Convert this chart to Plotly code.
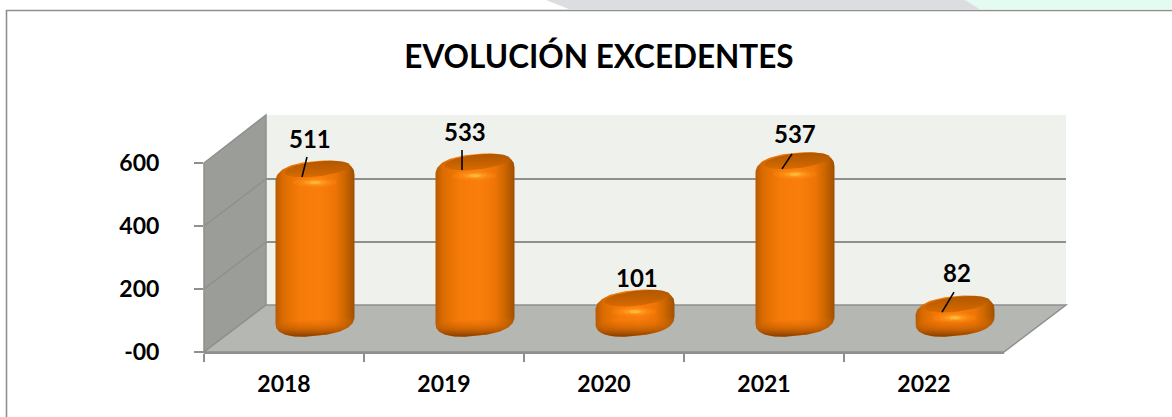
import numpy as np
import plotly.graph_objects as go

W, H = 1172, 417
years = ["2018", "2019", "2020", "2021", "2022"]
excedentes = [511, 533, 101, 537, 82]
tick_values = [0, 200, 400, 600]
tick_labels = ["-00", "200", "400", "600"]
title_text = "EVOLUCIÓN EXCEDENTES"

# styling: label / leader offsets in px relative to the bar-top centre
label_dx = [-5, -10, 2, 0, 2]
label_dy = [30, 30, 20, 26, 31]
leader_px = [((-8, 11), (-13, -9)), ((-13, 11), (-13, -9)), None, ((-3, 6), (-13, -9)), ((-1, 11), (-13, -9))]

FONT = "Lato, Carlito, Calibri, sans-serif"
PX_X = 1 / 160.0        # data units per px, x
PX_Y = 600 / 189.0      # data units per px, y


def fx(p):
    return p / W


def fy(p):
    return 1 - p / H


def poly(pts):
    return "M" + " L".join(f"{fx(x):.5f},{fy(y):.5f}" for x, y in pts) + " Z"


def cap(t, exp_x=0.8, exp_y=0.85):
    c, s = np.cos(t), np.sin(t)
    return np.sign(c) * np.abs(c) ** exp_x, np.sign(s) * np.abs(s) ** exp_y


HALF_W = 39.5
TILT = 3.5


def bottom_arc():
    t2 = np.linspace(np.pi, 2 * np.pi, 60)
    cx2, sy2 = cap(t2)
    return HALF_W * cx2, 9 + 16 * sy2 + TILT * cx2


def silhouette(i, v):
    t1 = np.linspace(0, np.pi, 60)
    cx, sy = cap(t1)
    xa = HALF_W * cx
    ya = -10 + 17 * sy + TILT * cx
    xb, yb = bottom_arc()
    xs = np.r_[i + xa * PX_X, i + xb * PX_X]
    ys = np.r_[v + ya * PX_Y, yb * PX_Y]
    return np.r_[xs, xs[0]], np.r_[ys, ys[0]]


def bottom_cap(i):
    xb, yb = bottom_arc()
    return np.r_[i + xb * PX_X, i + xb[0] * PX_X], np.r_[yb * PX_Y, yb[0] * PX_Y]


def ellipse(i, v, dx, dy, a, b, tilt=0.0):
    t = np.linspace(0, 2 * np.pi, 80)
    x = a * np.cos(t)
    y = dy + b * np.sin(t) + tilt * np.cos(t)
    return i + (dx + x) * PX_X, v + y * PX_Y


fig = go.Figure()

# back wall grid (subplot xy) and front labelled axes (x2y2) are driven by the same data
fig.add_trace(go.Scatter(x=years, y=excedentes, xaxis="x", yaxis="y", mode="markers",
                         marker=dict(opacity=0), hoverinfo="skip", showlegend=False))
fig.add_trace(go.Scatter(x=years, y=excedentes, xaxis="x2", yaxis="y2", mode="markers",
                         marker=dict(opacity=0), hoverinfo="skip", showlegend=False))

idx = list(range(len(years)))
fig.add_trace(go.Bar(x=idx, y=excedentes, xaxis="x3", yaxis="y3", width=56 * PX_X,
                     marker=dict(color="#f57808", line=dict(width=0)), hoverinfo="skip",
                     showlegend=False, name="Excedentes"))

body_scale = [[0, "#b65a00"], [0.1, "#dc6c00"], [0.3, "#f57a08"], [0.55, "#fa7e0c"],
              [0.75, "#ee7506"], [0.88, "#cc6500"], [1, "#a05000"]]

for i, v in zip(idx, excedentes):
    common = dict(xaxis="x3", yaxis="y3", mode="lines", line=dict(width=0), fill="toself",
                  hoverinfo="skip", showlegend=False, cliponaxis=False)
    x, y = silhouette(i, v)
    fig.add_trace(go.Scatter(x=x, y=y, fillgradient=dict(type="horizontal", colorscale=body_scale), **common))
    x, y = bottom_cap(i)
    fig.add_trace(go.Scatter(x=x, y=y, fillgradient=dict(type="vertical", colorscale=[
        [0, "rgba(125,58,0,0.95)"], [0.45, "rgba(190,90,0,0.55)"], [1, "rgba(240,120,0,0)"]]), **common))
    x, y = ellipse(i, v, 2, -1, 33, 7.5, TILT)
    fig.add_trace(go.Scatter(x=x, y=y, fillgradient=dict(type="vertical", colorscale=[
        [0, "#d96b00"], [0.5, "#c26000"], [1, "#b25800"]]), **common))
    for a, b, col in [(22, 5, "rgba(255,140,20,0.35)"), (16, 3.6, "rgba(255,150,30,0.4)"),
                      (11, 2.6, "rgba(255,170,40,0.5)"), (6, 1.6, "rgba(255,195,70,0.7)")]:
        x, y = ellipse(i, v, 0, -14.5, a, b)
        fig.add_trace(go.Scatter(x=x, y=y, xaxis="x3", yaxis="y3", mode="lines", line=dict(width=0),
                                 fill="toself", fillcolor=col, hoverinfo="skip", showlegend=False, cliponaxis=False))

# leader lines
for i, v, lead in zip(idx, excedentes, leader_px):
    if lead is None:
        continue
    (x0, y0), (x1, y1) = lead
    fig.add_trace(go.Scatter(x=[i + x0 * PX_X, i + x1 * PX_X], y=[v + y0 * PX_Y, v + y1 * PX_Y],
                             xaxis="x3", yaxis="y3", mode="lines", line=dict(color="#000000", width=1.6),
                             hoverinfo="skip", showlegend=False, cliponaxis=False))

annotations = [dict(x=i, y=v, xref="x3", yref="y3", text=f"<b>{v}</b>", showarrow=False,
                    xshift=dx, yshift=dy, font=dict(family=FONT, size=24, color="#000000"))
               for i, v, dx, dy in zip(idx, excedentes, label_dx, label_dy)]

GRID = "#8e908d"
shapes = [
    # frame
    dict(type="path", path=f"M{fx(6.5):.5f},{fy(H):.5f} L{fx(6.5):.5f},{fy(10.5):.5f} L1,{fy(10.5):.5f}",
         xref="paper", yref="paper", line=dict(color="#8f8f8f", width=1.6), layer="below"),
    # background strips above the frame
    dict(type="path", path=poly([(546, 0), (975, 0), (990, 9.5), (570, 9.5)]), xref="paper", yref="paper",
         fillcolor="#dcdde1", line=dict(width=0), layer="below"),
    dict(type="path", path=poly([(965, 0), (1172, 0), (1172, 9.5), (980, 9.5)]), xref="paper", yref="paper",
         fillcolor="#e4fbf2", line=dict(width=0), layer="below"),
    # walls
    dict(type="path", path=poly([(266, 115), (1066, 115), (1066, 305), (266, 305)]), xref="paper", yref="paper",
         fillcolor="#eff2ec", line=dict(width=0), layer="below"),
    dict(type="path", path=poly([(204, 163), (266, 115), (266, 305), (204, 352)]), xref="paper", yref="paper",
         fillcolor="#9a9d98", line=dict(color=GRID, width=1.5), layer="below"),
    dict(type="path", path=poly([(204, 352), (1004, 352), (1066, 305), (266, 305)]), xref="paper", yref="paper",
         fillcolor="#b4b7b2", line=dict(color=GRID, width=1.5), layer="below"),
]
for y0, y1 in [(226, 179), (289, 242)]:
    shapes.append(dict(type="line", x0=fx(204), x1=fx(266), y0=fy(y0), y1=fy(y1), xref="paper", yref="paper",
                       line=dict(color=GRID, width=1.5), layer="below"))

axis_off = dict(showgrid=False, zeroline=False, showticklabels=False, showline=False, ticks="", automargin=False)
fig.update_layout(
    template="none",
    width=W, height=H, margin=dict(l=0, r=0, t=0, b=0, pad=0), autosize=False,
    paper_bgcolor="#ffffff", plot_bgcolor="rgba(0,0,0,0)", showlegend=False, hovermode=False,
    font=dict(family=FONT, color="#000000"),
    barmode="overlay",
    title=dict(text=f"<b>{title_text}</b>", x=599 / W, y=fy(57), xref="paper", yref="paper",
               xanchor="center", yanchor="middle", font=dict(family=FONT, size=31.5, color="#000000")),
    # back wall
    xaxis=dict(domain=[fx(266), fx(1066)], type="category", categoryorder="array", categoryarray=years,
               range=[-0.5, 4.5], **axis_off),
    yaxis=dict(domain=[fy(305), fy(116)], range=[0, 600], tickvals=tick_values, showgrid=True, gridcolor=GRID,
               gridwidth=2, zeroline=False, showticklabels=False, showline=False, ticks="", automargin=False),
    # front plane: tick labels and tick marks
    xaxis2=dict(domain=[fx(204), fx(1004)], anchor="y2", type="category", categoryorder="array", categoryarray=years,
                range=[-0.5, 4.5], automargin=False,
                showgrid=False, zeroline=False, showline=True, linecolor=GRID, linewidth=2, ticks="outside",
                tickson="boundaries", ticklen=8, tickwidth=2, tickcolor=GRID, ticklabelstandoff=10,
                tickfont=dict(family=FONT, size=23, color="#000000"), tickprefix="<b>", ticksuffix="</b>"),
    yaxis2=dict(domain=[fy(352), fy(163)], anchor="x2", range=[0, 600], tickvals=tick_values,
                ticktext=[f"<b>{t}</b>" for t in tick_labels], automargin=False,
                showgrid=False, zeroline=False, showline=False, ticks="outside", ticklen=9, tickwidth=2,
                tickcolor=GRID, ticklabelstandoff=30, tickfont=dict(family=FONT, size=23, color="#000000")),
    # mid-depth plane: the bars
    xaxis3=dict(domain=[fx(235), fx(1035)], anchor="y3", range=[-0.5, 4.5], **axis_off),
    yaxis3=dict(domain=[fy(329 + 80 / PX_Y), fy(140 - 80 / PX_Y)], anchor="x3", range=[-80, 680], **axis_off),
    shapes=shapes,
    annotations=annotations,
)

fig.write_html("out.html", config=dict(displayModeBar=False),
               post_script="document.body.style.margin='0';document.body.style.overflow='hidden';")
